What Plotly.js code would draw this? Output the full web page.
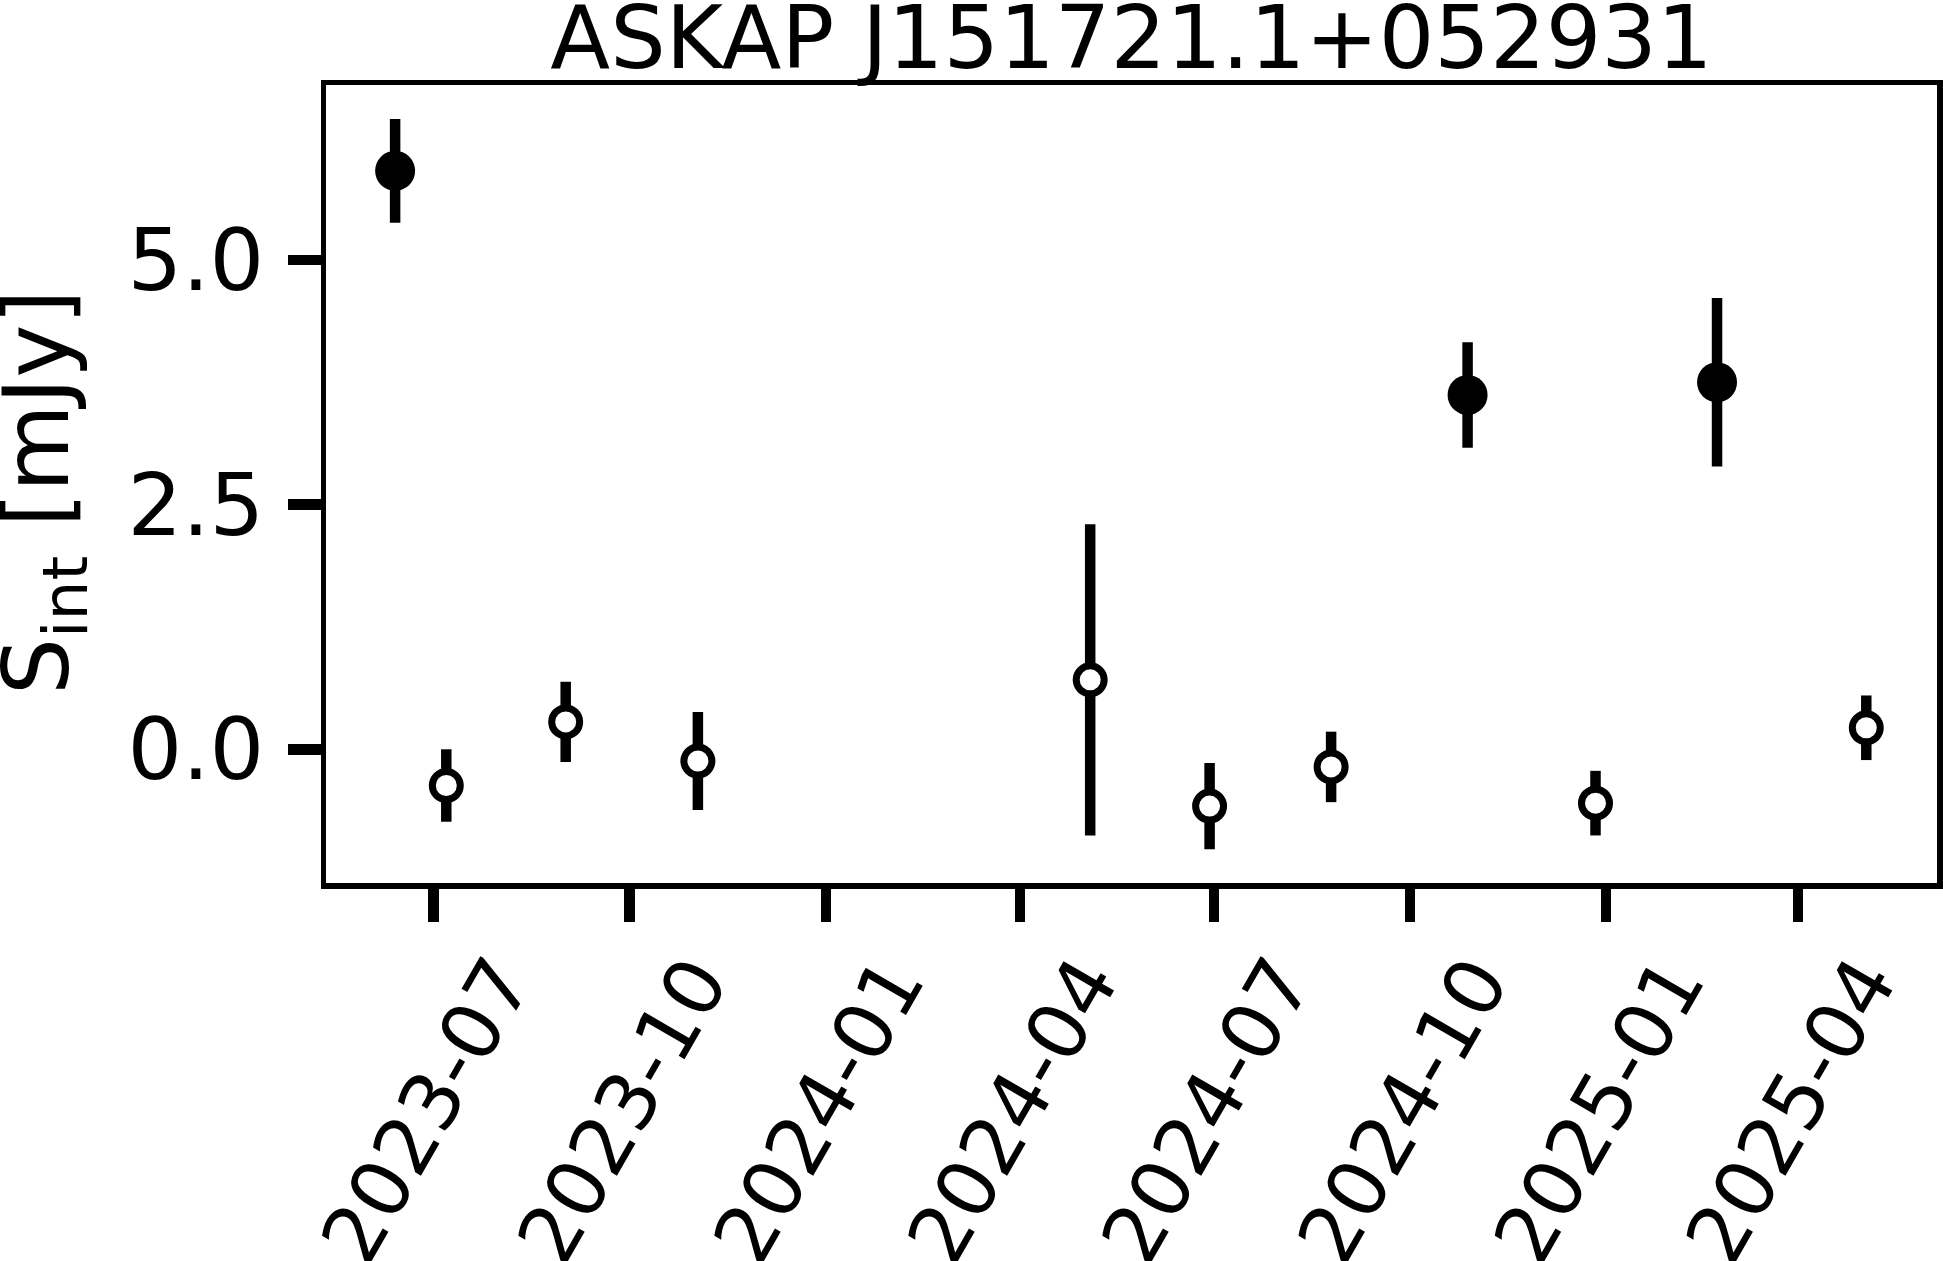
<!DOCTYPE html>
<html>
<head>
<meta charset="utf-8">
<script src="https://cdn.plot.ly/plotly-3.0.1.min.js"></script>
<style>
	html, body { margin: 0; padding: 0; background: #ffffff; }
	#plot { width: 1943px; height: 1261px; }
</style>
</head>
<body>
<div id="plot"></div>
<script>
// epochs with a detection (filled markers)
var detDates = ['2023-06-13', '2024-10-28', '2025-02-22'];
var detFlux = [5.91, 3.62, 3.75];
var detErr = [0.53, 0.54, 0.86];

// epochs without a detection (open markers)
var ndDates = ['2023-07-07', '2023-09-01', '2023-11-02', '2024-05-04', '2024-06-29', '2024-08-25', '2024-12-27', '2025-05-03'];
var ndFlux = [-0.37, 0.28, -0.12, 0.71, -0.58, -0.18, -0.55, 0.22];
var ndErr = [0.37, 0.41, 0.50, 1.59, 0.44, 0.36, 0.33, 0.33];

// axis ticks
var xTickDates = ['2023-07-01', '2023-10-01', '2024-01-01', '2024-04-01', '2024-07-01', '2024-10-01', '2025-01-01', '2025-04-01'];
var xTickLabels = ['2023-07', '2023-10', '2024-01', '2024-04', '2024-07', '2024-10', '2025-01', '2025-04'];
var yTickVals = [0, 2.5, 5];
var yTickLabels = ['0.0', '2.5', '5.0'];

var titleText = 'ASKAP J151721.1+052931';
var yLabel = 'S<sub>int</sub> [mJy]';


function makeTrace(dates, flux, err, filled) {
	return {
		type: 'scatter',
		mode: 'markers',
		x: dates,
		y: flux,
		error_y: {type: 'data', array: err, visible: true, color: '#000', thickness: 10.5, width: 0},
		marker: filled ?
			{symbol: 'circle', size: 40, color: '#000', line: {width: 0}} :
			{symbol: 'circle', size: 28, color: '#fff', line: {color: '#000', width: 7}},
		showlegend: false,
		hoverinfo: 'skip'
	};
}


function generatePlot(id) {
	var plotDiv = document.getElementById(id);
	var font = {family: 'DejaVu Sans', size: 86, color: '#000'};

	var data = [
		makeTrace(ndDates, ndFlux, ndErr, false),
		makeTrace(detDates, detFlux, detErr, true)
	];

	// plotly draws the frame just outside the plot area, so the margins
	// are pulled in by half the line width
	var layout = {
		width: 1943,
		height: 1261,
		margin: {l: 325.75, r: 5.75, t: 85.25, b: 378.45, pad: 0},
		paper_bgcolor: '#fff',
		plot_bgcolor: '#fff',
		font: font,
		title: {
			text: titleText,
			font: {family: 'DejaVu Sans', size: 87.5, color: '#000'},
			x: 0.5, xref: 'paper', xanchor: 'center',
			y: 0.995, yref: 'container', yanchor: 'top', pad: {t: 0}
		},
		xaxis: {
			type: 'date',
			range: ['2023-05-11 14:00', '2025-06-05 04:00'],
			tickmode: 'array',
			tickvals: xTickDates,
			ticktext: xTickLabels,
			tickangle: -60,
			ticks: 'outside', ticklen: 33, tickwidth: 10.5, tickcolor: '#000',
			ticklabelshift: 66,
			ticklabelstandoff: -18,
			tickfont: {family: 'DejaVu Sans', size: 80, color: '#000'},
			showline: true, linecolor: '#000', linewidth: 5.5, mirror: true,
			showgrid: false, zeroline: false
		},
		yaxis: {
			range: [-1.366, 6.787],
			tickmode: 'array',
			tickvals: yTickVals,
			ticktext: yTickLabels,
			ticks: 'outside', ticklen: 33, tickwidth: 10.5, tickcolor: '#000',
			ticklabelstandoff: 6,
			tickfont: font,
			showline: true, linecolor: '#000', linewidth: 5.5, mirror: true,
			showgrid: false, zeroline: false
		},
		// y label as a rotated annotation: an axis title is kept inside the
		// margin and cannot sit as close to the edge as the reference
		annotations: [{
			text: yLabel,
			xref: 'paper', yref: 'paper',
			x: -0.176, y: 0.4905,
			xanchor: 'center', yanchor: 'middle',
			textangle: -90,
			showarrow: false,
			font: {family: 'DejaVu Sans', size: 90, color: '#000'}
		}]
	};

	Plotly.newPlot(plotDiv, data, layout, {displayModeBar: false, staticPlot: true});
}

generatePlot('plot');
</script>
</body>
</html>
